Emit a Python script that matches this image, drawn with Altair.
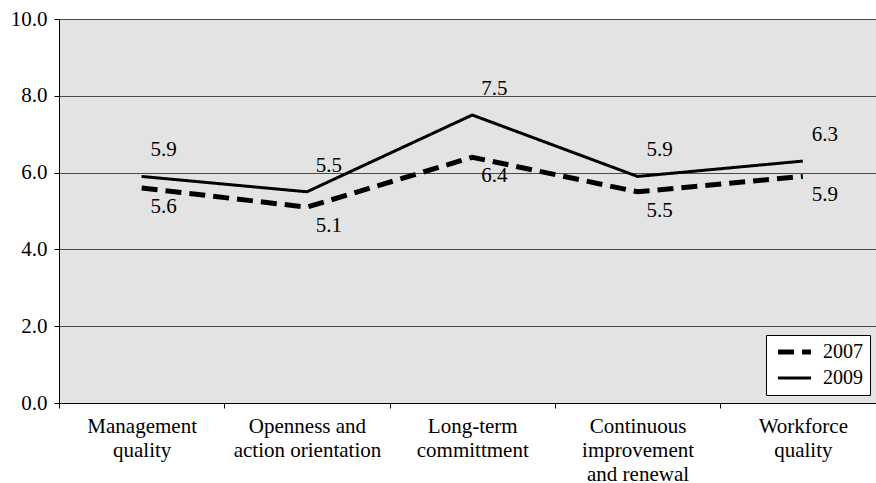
import json
import altair as alt
import pandas as pd

# Survey dimensions (label lines separated by "|")
categories = [
    "Management|quality",
    "Openness and|action orientation",
    "Long-term|committment",
    "Continuous|improvement|and renewal",
    "Workforce|quality",
]
series = ["2007", "2009"]
scores_2007 = [5.6, 5.1, 6.4, 5.5, 5.9]
scores_2009 = [5.9, 5.5, 7.5, 5.9, 6.3]
y_ticks = [0, 2, 4, 6, 8, 10]

FONT = "Liberation Serif"
PLOT_W, PLOT_H = 817, 384
BAND_PX = 165.3  # width of one category slot in pixels

rows = []
for name, vals in zip(series, [scores_2007, scores_2009]):
    for i, v in enumerate(vals):
        rows.append({"pos": i + 0.5, "score": v, "year": name})
df = pd.DataFrame(rows)

label_lines = [c.split("|") for c in categories]

x_scale = alt.Scale(domain=[0, PLOT_W / BAND_PX], nice=False, zero=False)
y_scale = alt.Scale(domain=[0, 10], nice=False)

x_axis = alt.Axis(
    values=[0, 1, 2, 3, 4],
    labelExpr=f"{json.dumps(label_lines)}[datum.value]",
    labelOffset=BAND_PX / 2,
    labelOverlap=False,
    labelFlush=False,
    labelBound=False,
    labelAlign="center",
    labelBaseline="top",
    labelLineHeight=24,
    labelPadding=7,
    labelFont=FONT,
    labelFontSize=21,
    labelColor="black",
    tickSize=5,
    tickColor="black",
    domainColor="black",
    grid=False,
    title=None,
)
y_axis = alt.Axis(
    values=y_ticks,
    format=".1f",
    grid=True,
    gridColor="#4a4a4a",
    gridWidth=1,
    tickSize=5,
    tickColor="black",
    domainColor="black",
    labelPadding=7,
    labelFont=FONT,
    labelFontSize=21,
    labelColor="black",
    title=None,
)

x_enc = alt.X("pos:Q", scale=x_scale, axis=x_axis)
y_enc = alt.Y("score:Q", scale=y_scale, axis=y_axis)

lines = alt.Chart(df).mark_line(color="black").encode(
    x=x_enc,
    y=y_enc,
    strokeDash=alt.StrokeDash(
        "year:N",
        scale=alt.Scale(domain=series, range=[[16, 8], [1, 0]]),
        legend=alt.Legend(title=None),
    ),
    strokeWidth=alt.StrokeWidth(
        "year:N",
        scale=alt.Scale(domain=series, range=[5, 3]),
        legend=alt.Legend(title=None),
    ),
)

labels_2009 = alt.Chart(df).transform_filter(alt.datum.year == "2009").mark_text(
    font=FONT, fontSize=21, color="black", dx=22, dy=-26, baseline="middle"
).encode(
    x=alt.X("pos:Q", scale=x_scale),
    y=alt.Y("score:Q", scale=y_scale),
    text=alt.Text("score:Q", format=".1f"),
)

labels_2007 = alt.Chart(df).transform_filter(alt.datum.year == "2007").mark_text(
    font=FONT, fontSize=21, color="black", dx=22, dy=19, baseline="middle"
).encode(
    x=alt.X("pos:Q", scale=x_scale),
    y=alt.Y("score:Q", scale=y_scale),
    text=alt.Text("score:Q", format=".1f"),
)

chart = (
    alt.layer(lines, labels_2009, labels_2007)
    .properties(
        width=PLOT_W,
        height=PLOT_H,
        autosize=alt.AutoSizeParams(type="none"),
        padding={"left": 59, "top": 19, "right": 0, "bottom": 80},
    )
    .configure(font=FONT)
    .configure_view(fill="#e3e3e3", stroke=None)
    .configure_legend(
        orient="none",
        legendX=707,
        legendY=316,
        fillColor="white",
        strokeColor="black",
        padding=7,
        # short horizontal stroke stretched to a 33px sample
        symbolType="M-1,0H5.6",
        symbolSize=100,
        symbolStrokeColor="black",
        symbolFillColor="transparent",
        labelOffset=30,
        rowPadding=6,
        labelFont=FONT,
        labelFontSize=20,
        labelColor="black",
    )
)

chart.save("out.html", embed_options={"renderer": "svg", "actions": False})
